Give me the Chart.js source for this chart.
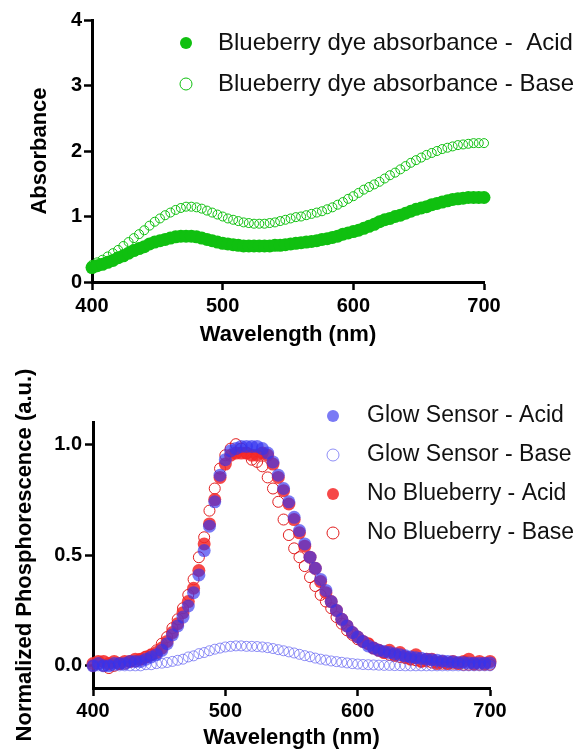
<!DOCTYPE html>
<html>
<head>
<meta charset="utf-8">
<script src="https://cdn.jsdelivr.net/npm/chart.js@4.4.0/dist/chart.umd.min.js"></script>
<style>
  body { margin: 0; background: #fff; width: 582px; height: 749px; overflow: hidden; position: relative; }
  canvas { position: absolute; left: 0; }
  #absChart { top: 0; }
  #phosChart { top: 355px; }
</style>
</head>
<body>
<canvas id="absChart" width="582" height="350"></canvas>
<canvas id="phosChart" width="582" height="394"></canvas>
<script>
// wavelengths (nm), shared by both panels
const wavelengths = [
  400, 404, 408, 412, 416, 420, 424, 428, 432, 436,
  440, 444, 448, 452, 456, 460, 464, 468, 472, 476,
  480, 484, 488, 492, 496, 500, 504, 508, 512, 516,
  520, 524, 528, 532, 536, 540, 544, 548, 552, 556,
  560, 564, 568, 572, 576, 580, 584, 588, 592, 596,
  600, 604, 608, 612, 616, 620, 624, 628, 632, 636,
  640, 644, 648, 652, 656, 660, 664, 668, 672, 676,
  680, 684, 688, 692, 696, 700,
];

// top panel: absorbance
const dyeAcid = [
  0.22, 0.25, 0.27, 0.30, 0.33, 0.37, 0.40, 0.44, 0.48, 0.51,
  0.54, 0.58, 0.61, 0.63, 0.65, 0.67, 0.69, 0.70, 0.70, 0.70,
  0.69, 0.67, 0.65, 0.63, 0.61, 0.59, 0.58, 0.57, 0.56, 0.55,
  0.55, 0.55, 0.55, 0.55, 0.55, 0.56, 0.56, 0.57, 0.58, 0.59,
  0.60, 0.61, 0.62, 0.63, 0.65, 0.66, 0.68, 0.70, 0.73, 0.75,
  0.77, 0.79, 0.82, 0.85, 0.88, 0.92, 0.95, 0.97, 1.00, 1.02,
  1.05, 1.08, 1.11, 1.13, 1.15, 1.18, 1.20, 1.22, 1.24, 1.26,
  1.27, 1.28, 1.29, 1.29, 1.29, 1.29,
];
const dyeBase = [
  0.26, 0.30, 0.34, 0.39, 0.44, 0.49, 0.55, 0.61, 0.67, 0.73,
  0.79, 0.86, 0.92, 0.97, 1.02, 1.06, 1.10, 1.13, 1.15, 1.15,
  1.14, 1.12, 1.09, 1.06, 1.03, 1.00, 0.97, 0.95, 0.93, 0.91,
  0.90, 0.89, 0.89, 0.89, 0.90, 0.91, 0.93, 0.95, 0.97, 0.99,
  1.00, 1.02, 1.04, 1.06, 1.08, 1.11, 1.14, 1.18, 1.22, 1.27,
  1.31, 1.36, 1.41, 1.45, 1.49, 1.53, 1.58, 1.63, 1.67, 1.72,
  1.77, 1.82, 1.86, 1.90, 1.94, 1.97, 2.00, 2.03, 2.05, 2.07,
  2.09, 2.10, 2.11, 2.12, 2.12, 2.12,
];

// bottom panel: normalized phosphorescence
const glowAcid = [
  0.00, 0.01, 0.00, 0.00, 0.01, 0.01, 0.01, 0.02, 0.02, 0.02,
  0.03, 0.04, 0.05, 0.07, 0.10, 0.14, 0.18, 0.22, 0.27, 0.33,
  0.41, 0.52, 0.63, 0.74, 0.86, 0.93, 0.97, 0.98, 0.99, 0.99,
  0.99, 0.99, 0.98, 0.96, 0.92, 0.86, 0.80, 0.74, 0.67, 0.61,
  0.55, 0.49, 0.44, 0.39, 0.34, 0.29, 0.25, 0.21, 0.18, 0.15,
  0.13, 0.11, 0.09, 0.08, 0.07, 0.065, 0.06, 0.055, 0.05, 0.045,
  0.04, 0.037, 0.034, 0.03, 0.027, 0.025, 0.022, 0.02, 0.018, 0.015,
  0.015, 0.013, 0.012, 0.012, 0.012, 0.013,
];
const glowBase = [
  0.00, 0.00, 0.00, 0.00, 0.00, 0.00, 0.00, 0.00, 0.00, 0.00,
  0.005, 0.005, 0.01, 0.012, 0.015, 0.02, 0.025, 0.03, 0.04, 0.045,
  0.055, 0.06, 0.068, 0.075, 0.08, 0.085, 0.088, 0.09, 0.09, 0.088,
  0.088, 0.087, 0.085, 0.082, 0.078, 0.073, 0.068, 0.063, 0.058, 0.052,
  0.046, 0.041, 0.035, 0.03, 0.026, 0.022, 0.019, 0.016, 0.013, 0.01,
  0.008, 0.006, 0.005, 0.004, 0.003, 0.002, 0.002, 0.001, 0.001, 0.00,
  0.00, 0.00, 0.00, 0.00, 0.00, 0.00, 0.00, 0.00, 0.00, 0.00,
  0.00, 0.00, 0.00, 0.00, 0.00, 0.00,
];
const noBerryAcid = [
  0.01, 0.02, 0.02, 0.01, 0.02, 0.01, 0.02, 0.02, 0.03, 0.03,
  0.04, 0.05, 0.06, 0.08, 0.11, 0.15, 0.19, 0.24, 0.29, 0.35,
  0.43, 0.55, 0.64, 0.75, 0.85, 0.91, 0.95, 0.96, 0.96, 0.96,
  0.95, 0.95, 0.96, 0.95, 0.91, 0.85, 0.79, 0.73, 0.66, 0.60,
  0.54, 0.49, 0.44, 0.38, 0.33, 0.29, 0.25, 0.21, 0.18, 0.15,
  0.13, 0.11, 0.10, 0.08, 0.07, 0.06, 0.07, 0.05, 0.06, 0.04,
  0.03, 0.05, 0.02, 0.03, 0.03, 0.01, 0.02, 0.01, 0.02, 0.01,
  0.02, 0.03, 0.01, 0.02, 0.01, 0.02,
];
const noBerryBase = [
  0.00, 0.01, 0.00, -0.01, 0.00, 0.01, 0.01, 0.02, 0.02, 0.03,
  0.04, 0.05, 0.07, 0.10, 0.13, 0.17, 0.21, 0.26, 0.32, 0.39,
  0.49, 0.58, 0.70, 0.80, 0.89, 0.95, 0.98, 1.00, 0.98, 0.96,
  0.93, 0.92, 0.90, 0.85, 0.80, 0.74, 0.66, 0.59, 0.53, 0.49,
  0.45, 0.40, 0.36, 0.32, 0.29, 0.26, 0.22, 0.19, 0.16, 0.14,
  0.12, 0.11, 0.10, 0.08, 0.07, 0.06, 0.05, 0.045, 0.04, 0.035,
  0.03, 0.025, 0.02, 0.02, 0.015, 0.015, 0.01, 0.01, 0.01, 0.01,
  0.005, 0.005, 0.005, 0.005, 0.005, 0.005,
];

// tick labels
const wavelengthTicks = [400, 500, 600, 700];
const absTicks = [0, 1, 2, 3, 4];
const phosTicks = [0, 0.5, 1.0];

Chart.defaults.font.family = '"Liberation Sans", Arial, Helvetica, sans-serif';
Chart.defaults.color = '#000';

const GREEN = 'rgb(16,192,16)';
const pts = (ys) => wavelengths.map((x, i) => ({ x, y: ys[i] }));

// draws the marker + label list in the top-right corner
const cornerLegend = {
  id: 'cornerLegend',
  afterDraw(chart, args, opts) {
    const ctx = chart.ctx;
    ctx.save();
    ctx.font = opts.font;
    ctx.textBaseline = 'middle';
    chart.data.datasets.forEach((ds, i) => {
      const y = opts.y + i * opts.gap;
      ctx.beginPath();
      ctx.arc(opts.markerX, y, opts.radius, 0, Math.PI * 2);
      if (ds.filled) {
        ctx.fillStyle = ds.backgroundColor;
        ctx.fill();
      } else {
        ctx.strokeStyle = ds.borderColor;
        ctx.lineWidth = 1;
        ctx.stroke();
      }
      ctx.fillStyle = '#111';
      ctx.fillText(ds.label, opts.textX, y);
    });
    ctx.restore();
  },
};

const tickFont = { size: 20, weight: 'bold' };
const titleFont = { size: 22, weight: 'bold', lineHeight: 1 };
const tickGrid = { display: true, drawOnChartArea: false, drawTicks: true, tickLength: 8, tickWidth: 2.5, tickColor: '#000' };
const axisBorder = { display: true, color: '#000', width: 3 };

const useTicks = (list) => (scale) => { scale.ticks = list.map((v) => ({ value: v })); };

const absChart = new Chart(document.getElementById('absChart'), {
  type: 'scatter',
  data: {
    datasets: [
      {
        label: 'Blueberry dye absorbance -  Acid',
        data: pts(dyeAcid),
        filled: true,
        backgroundColor: GREEN,
        borderColor: GREEN,
        borderWidth: 0,
        pointRadius: 6.5,
        clip: false,
      },
      {
        label: 'Blueberry dye absorbance - Base',
        data: pts(dyeBase),
        filled: false,
        backgroundColor: 'rgba(0,0,0,0)',
        borderColor: GREEN,
        borderWidth: 1,
        pointRadius: 4.5,
        clip: false,
      },
    ],
  },
  options: {
    responsive: false,
    animation: false,
    events: [],
    layout: { padding: { left: 0, right: 98, top: 20, bottom: 0 } },
    plugins: {
      legend: { display: false },
      tooltip: { enabled: false },
      cornerLegend: { font: '24px "Liberation Sans", Arial, sans-serif', markerX: 186, textX: 218, y: 43, gap: 41, radius: 6 },
    },
    scales: {
      x: {
        type: 'linear',
        min: 400,
        max: 700,
        afterBuildTicks: useTicks(wavelengthTicks),
        afterFit: (s) => { s.height = 68; },
        ticks: { padding: 4, font: tickFont, color: '#000' },
        grid: tickGrid,
        border: axisBorder,
        title: { display: true, text: 'Wavelength (nm)', font: titleFont, padding: { top: 0, bottom: 4 }, color: '#000' },
      },
      y: {
        min: 0,
        max: 4,
        afterBuildTicks: useTicks(absTicks),
        afterFit: (s) => { s.width = 92; },
        ticks: { padding: 2, font: tickFont, color: '#000' },
        grid: tickGrid,
        border: axisBorder,
        title: { display: true, text: 'Absorbance', font: titleFont, padding: { top: 29, bottom: 0 }, color: '#000' },
      },
    },
  },
  plugins: [cornerLegend],
});

const phosChart = new Chart(document.getElementById('phosChart'), {
  type: 'scatter',
  data: {
    datasets: [
      {
        label: 'Glow Sensor - Acid',
        data: pts(glowAcid),
        filled: true,
        backgroundColor: 'rgba(50,50,240,0.65)',
        borderColor: 'rgba(50,50,240,0.65)',
        borderWidth: 0,
        pointRadius: 6.5,
        clip: false,
      },
      {
        label: 'Glow Sensor - Base',
        data: pts(glowBase),
        filled: false,
        backgroundColor: 'rgba(0,0,0,0)',
        borderColor: 'rgba(70,70,240,0.6)',
        borderWidth: 1,
        pointRadius: 5,
        clip: false,
      },
      {
        label: 'No Blueberry - Acid',
        data: pts(noBerryAcid),
        filled: true,
        backgroundColor: 'rgba(245,40,40,0.85)',
        borderColor: 'rgba(245,40,40,0.85)',
        borderWidth: 0,
        pointRadius: 6.5,
        clip: false,
      },
      {
        label: 'No Blueberry - Base',
        data: pts(noBerryBase),
        filled: false,
        backgroundColor: 'rgba(0,0,0,0)',
        borderColor: 'rgb(225,30,30)',
        borderWidth: 1,
        pointRadius: 5.5,
        clip: false,
      },
    ],
  },
  options: {
    responsive: false,
    animation: false,
    events: [],
    layout: { padding: { left: 0, right: 92, top: 67, bottom: 0 } },
    plugins: {
      legend: { display: false },
      tooltip: { enabled: false },
      cornerLegend: { font: '23px "Liberation Sans", Arial, sans-serif', markerX: 333, textX: 367, y: 61, gap: 39, radius: 6 },
    },
    scales: {
      x: {
        type: 'linear',
        min: 400,
        max: 700,
        afterBuildTicks: useTicks(wavelengthTicks),
        afterFit: (s) => { s.height = 61; },
        ticks: { padding: 3, font: tickFont, color: '#000' },
        grid: tickGrid,
        border: axisBorder,
        title: { display: true, text: 'Wavelength (nm)', font: titleFont, padding: { top: 0, bottom: 0 }, color: '#000' },
      },
      y: {
        min: -0.1,
        max: 1.1,
        afterBuildTicks: useTicks(phosTicks),
        afterFit: (s) => { s.width = 93; },
        ticks: { padding: 3, font: tickFont, color: '#000', callback: (v) => v.toFixed(1) },
        grid: tickGrid,
        border: axisBorder,
        title: { display: true, text: 'Normalized Phosphorescence (a.u.)', font: titleFont, padding: { top: 14, bottom: 0 }, color: '#000' },
      },
    },
  },
  plugins: [cornerLegend],
});
</script>
</body>
</html>
